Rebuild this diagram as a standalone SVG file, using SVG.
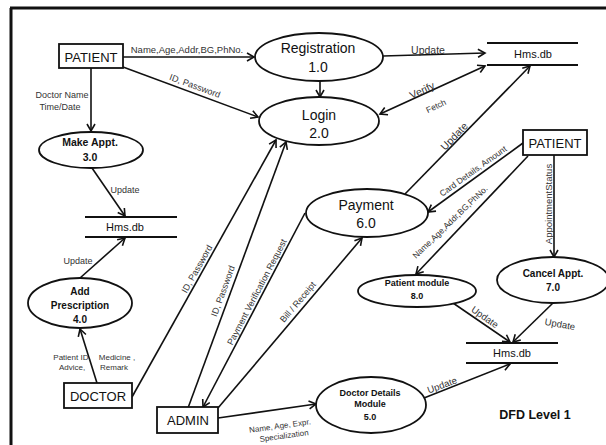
<svg xmlns="http://www.w3.org/2000/svg" width="606" height="445" viewBox="0 0 606 445">
<style>
text{font-family:"Liberation Sans",Arial,sans-serif;fill:#111;text-anchor:middle;dominant-baseline:central}
.proc{fill:#fff;stroke:#111;stroke-width:1.8}
.box{fill:#fff;stroke:#111;stroke-width:1.8}
.store{stroke:#111;stroke-width:1.8}
.c{stroke:#111;stroke-width:1.6;fill:none;marker-end:url(#arr)}
.big{font-size:14px}
.ent{font-size:13px}
.b{font-weight:bold}
.lbl{font-size:9px;fill:#333}
.sm{font-size:8px;fill:#333}
</style>
<defs>
<marker id="arr" markerUnits="userSpaceOnUse" markerWidth="10" markerHeight="10" refX="8" refY="5" orient="auto-start-reverse">
<path d="M1,1 L8,5 L1,9" fill="none" stroke="#111" stroke-width="1.6"/>
</marker>
</defs>
<rect width="606" height="445" fill="#fff"/>
<path d="M10,8 H606 M11,8 V445" stroke="#111" stroke-width="3" fill="none"/>

<g id="connectors">
<line class="c" x1="123" y1="57" x2="254" y2="57"/>
<line class="c" x1="123" y1="67" x2="258" y2="117"/>
<line class="c" x1="91" y1="68" x2="91" y2="131"/>
<line class="c" x1="320" y1="81" x2="320" y2="97"/>
<line class="c" x1="383" y1="56" x2="485" y2="53"/>
<line class="c" x1="380" y1="114" x2="485" y2="66" marker-start="url(#arr)"/>
<line class="c" x1="405" y1="194" x2="530" y2="66"/>
<line class="c" x1="92" y1="168" x2="125" y2="216"/>
<line class="c" x1="80" y1="278" x2="125" y2="238"/>
<line class="c" x1="97" y1="383" x2="80" y2="329"/>
<line class="c" x1="132" y1="397" x2="276" y2="140"/>
<line class="c" x1="188" y1="408" x2="286" y2="142"/>
<line class="c" x1="305" y1="213" x2="203" y2="407"/>
<line class="c" x1="218" y1="408" x2="362" y2="238"/>
<line class="c" x1="218" y1="418" x2="316" y2="404"/>
<line class="c" x1="523" y1="143" x2="428" y2="212"/>
<line class="c" x1="528" y1="156" x2="416" y2="274"/>
<line class="c" x1="554" y1="155" x2="554" y2="257"/>
<line class="c" x1="453" y1="303" x2="510" y2="342"/>
<line class="c" x1="553" y1="303" x2="513" y2="342"/>
<line class="c" x1="424" y1="398" x2="510" y2="364"/>

<text class="lbl" style="font-size:9.5px" x="187" y="49">Name,Age,Addr,BG,PhNo.</text>
<text class="lbl" transform="translate(195,86) rotate(20.3)">ID, Password</text>
<text class="lbl" x="62" y="95">Doctor Name</text>
<text class="lbl" x="60" y="107">Time/Date</text>
<text class="lbl" x="125" y="190">Update</text>
<text class="lbl" x="78" y="261">Update</text>
<text class="sm" x="72" y="357">Patient ID,</text>
<text class="sm" x="117" y="357">Medicine ,</text>
<text class="sm" x="72" y="367">Advice,</text>
<text class="sm" x="114" y="367">Remark</text>
<text class="lbl" transform="translate(197,269) rotate(-60.6)">ID, Password</text>
<text class="lbl" transform="translate(223,291) rotate(-69.8)">ID, Password</text>
<text class="lbl" transform="translate(257,292) rotate(-62.4)">Payment Verification Request</text>
<text class="lbl" transform="translate(298,302) rotate(-49.7)">Bill / Receipt</text>
<text class="sm" transform="translate(280,426) rotate(-8)">Name, Age, Expr.</text>
<text class="sm" transform="translate(284,436) rotate(-8)">Specialization</text>
<text class="lbl" style="font-size:10.5px" x="428" y="50">Update</text>
<text class="lbl" style="font-size:10.5px" transform="translate(422,90) rotate(-25.4)">Verify</text>
<text class="lbl" style="font-size:8.5px" transform="translate(436,106) rotate(-25.4)">Fetch</text>
<text class="lbl" style="font-size:10.5px" transform="translate(454,136) rotate(-46)">Update</text>
<text class="sm" style="font-size:8.5px" transform="translate(473,171) rotate(-35.7)">Card Details, Amount</text>
<text class="sm" style="font-size:8.5px" transform="translate(450,222) rotate(-44)">Name,Age,Addr,BG,PhNo.</text>
<text class="lbl" style="font-size:9.5px" transform="translate(548,204) rotate(-90)">AppointmentStatus</text>
<text class="lbl" style="font-size:9.5px" transform="translate(485,317) rotate(35)">Update</text>
<text class="lbl" style="font-size:9.5px" transform="translate(560,324) rotate(10)">Update</text>
<text class="lbl" style="font-size:9.5px" transform="translate(442,385) rotate(-20)">Update</text>
</g>

<g id="patient1"><rect class="box" x="59" y="44" width="64" height="24"/><text class="ent" x="91" y="57">PATIENT</text></g>
<g id="patient2"><rect class="box" x="523" y="130" width="64" height="25"/><text class="ent" x="555" y="143">PATIENT</text></g>
<g id="doctor"><rect class="box" x="64" y="383" width="68" height="25"/><text class="ent" x="98" y="396">DOCTOR</text></g>
<g id="admin"><rect class="box" x="157" y="407" width="61" height="26"/><text class="ent" x="188" y="420">ADMIN</text></g>

<g id="registration"><ellipse class="proc" cx="319" cy="57" rx="64" ry="24"/><text class="big" x="318" y="48">Registration</text><text class="big" x="318" y="67">1.0</text></g>
<g id="login"><ellipse class="proc" cx="319" cy="121" rx="60" ry="24"/><text class="big" x="319" y="115">Login</text><text class="big" x="319" y="133">2.0</text></g>
<g id="makeappt"><ellipse class="proc" cx="91" cy="150" rx="52" ry="18"/><text class="b" style="font-size:10.5px" x="90" y="142">Make Appt.</text><text class="b" style="font-size:10.5px" x="90" y="157">3.0</text></g>
<g id="addpresc"><ellipse class="proc" cx="80" cy="303" rx="52" ry="25"/><text class="b" style="font-size:10px" x="80" y="291">Add</text><text class="b" style="font-size:10px" x="80" y="305">Prescription</text><text class="b" style="font-size:10px" x="80" y="319">4.0</text></g>
<g id="payment"><ellipse class="proc" cx="367" cy="213" rx="61" ry="24"/><text class="big" x="366" y="205">Payment</text><text class="big" x="366" y="223">6.0</text></g>
<g id="patientmodule"><ellipse class="proc" cx="417" cy="291" rx="59" ry="16"/><text class="b" style="font-size:9px" x="417" y="283">Patient module</text><text class="b" style="font-size:9px" x="417" y="296">8.0</text></g>
<g id="cancelappt"><ellipse class="proc" cx="553" cy="280" rx="56" ry="23"/><text class="b" style="font-size:10px" x="553" y="273">Cancel Appt.</text><text class="b" style="font-size:10px" x="553" y="287">7.0</text></g>
<g id="doctordetails"><ellipse class="proc" cx="371" cy="405" rx="55" ry="28"/><text class="b" style="font-size:9px" x="370" y="393">Doctor Details</text><text class="b" style="font-size:9px" x="370" y="404">Module</text><text class="b" style="font-size:9px" x="370" y="417">5.0</text></g>

<g id="hms1"><line class="store" x1="487" y1="43" x2="578" y2="43"/><line class="store" x1="487" y1="65" x2="578" y2="65"/><text style="font-size:11px" x="533" y="54">Hms.db</text></g>
<g id="hms2"><line class="store" x1="85" y1="217" x2="177" y2="217"/><line class="store" x1="85" y1="237" x2="177" y2="237"/><text style="font-size:11px" x="125" y="227">Hms.db</text></g>
<g id="hms3"><line class="store" x1="466" y1="343" x2="558" y2="343"/><line class="store" x1="466" y1="363" x2="558" y2="363"/><text style="font-size:11px" x="512" y="353">Hms.db</text></g>

<text class="b" style="font-size:12.5px" x="535" y="415">DFD Level 1</text>
</svg>
